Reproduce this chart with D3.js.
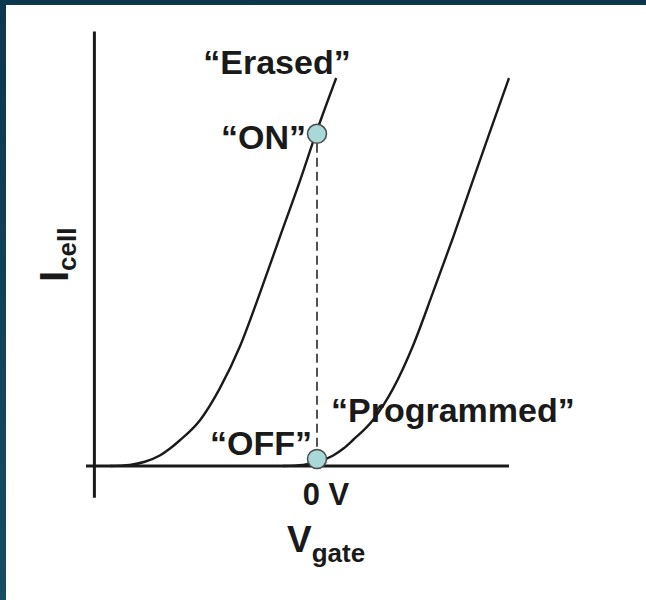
<!DOCTYPE html>
<html>
<head>
<meta charset="utf-8">
<script src="https://cdn.jsdelivr.net/npm/d3@7"></script>
<style>
  html, body { margin: 0; padding: 0; background: #fff; }
  svg { display: block; }
  text { font-family: "Liberation Sans", Arial, sans-serif; font-weight: bold; fill: #1a1a1a; }
</style>
</head>
<body>
<div id="chart"></div>
<script>
// --- Data (V gate in volts, I cell in arbitrary units) ---
const erasedV = [-3.45, -3.12, -2.87, -2.62, -2.45, -2.28, -1.95, -1.62, -1.28, -0.95, -0.62, -0.28, -0.02, 0.32];
const erasedI = [0, 0.03, 0.11, 0.27, 0.45, 0.67, 1.18, 2.0, 3.1, 4.46, 5.90, 7.37, 8.56, 10.0];
const programmedV = [-0.57, -0.23, 0.02, 0.27, 0.44, 0.60, 0.93, 1.27, 1.60, 1.93, 2.27, 2.60, 2.87, 3.20];
const programmedI = [0, 0.03, 0.11, 0.27, 0.45, 0.67, 1.18, 2.0, 3.1, 4.46, 5.90, 7.37, 8.56, 10.0];
const stateV = [0, 0];
const stateI = [8.56, 0.18];   // "ON", "OFF"
const stateLabels = ["\u201cON\u201d", "\u201cOFF\u201d"];
const tickLabel = "0 V";

const W = 646, H = 600;

// --- Scales ---
const x = d3.scaleLinear().domain([-3.85, 3.2]).range([86, 509]);
const y = d3.scaleLinear().domain([0, 10]).range([466, 78]);

const svg = d3.select("#chart").append("svg")
  .attr("width", W).attr("height", H);

// --- Frame ---
const defs = svg.append("defs");
const grad = defs.append("linearGradient").attr("id", "frame")
  .attr("x1", 0).attr("y1", 0).attr("x2", 0).attr("y2", 1);
grad.append("stop").attr("offset", "0%").attr("stop-color", "#0d374e");
grad.append("stop").attr("offset", "100%").attr("stop-color", "#154d63");
svg.append("rect").attr("width", W).attr("height", H).attr("fill", "url(#frame)");
svg.append("rect").attr("x", 6).attr("y", 5).attr("width", W - 6).attr("height", H - 5).attr("fill", "#fff");

// --- Axes ---
svg.append("line")
  .attr("x1", x(-3.85)).attr("x2", x(3.2))
  .attr("y1", y(0)).attr("y2", y(0))
  .attr("stroke", "#1a1a1a").attr("stroke-width", 3);
svg.append("line")
  .attr("x1", x(-3.71)).attr("x2", x(-3.71))
  .attr("y1", y(11.2)).attr("y2", y(-0.82))
  .attr("stroke", "#1a1a1a").attr("stroke-width", 3);

// --- Curves ---
const line = d3.line()
  .x(d => x(d[0]))
  .y(d => y(d[1]))
  .curve(d3.curveMonotoneX);

[[erasedV, erasedI], [programmedV, programmedI]].forEach(([vs, is]) => {
  svg.append("path")
    .datum(vs.map((v, i) => [v, is[i]]))
    .attr("fill", "none")
    .attr("stroke", "#1a1a1a")
    .attr("stroke-width", 2.4)
    .attr("d", line);
});

// --- Dashed link between ON and OFF ---
svg.append("line")
  .attr("x1", x(stateV[0])).attr("x2", x(stateV[1]))
  .attr("y1", y(stateI[0]) + 10).attr("y2", y(stateI[1]) - 10)
  .attr("stroke", "#1a1a1a").attr("stroke-width", 1.5)
  .attr("stroke-dasharray", "9 5");

// --- State points ---
svg.selectAll(".state")
  .data(stateV.map((v, i) => ({ v, i: stateI[i] })))
  .enter().append("circle")
  .attr("class", "state")
  .attr("cx", d => x(d.v))
  .attr("cy", d => y(d.i))
  .attr("r", 9.5)
  .attr("fill", "#a9d8d9")
  .attr("stroke", "#4a4a4a")
  .attr("stroke-width", 1.5);

// --- Labels ---
svg.append("text").attr("x", x(stateV[0]) - 11).attr("y", y(stateI[0]) + 15)
  .attr("text-anchor", "end").attr("font-size", 34).text(stateLabels[0]);
svg.append("text").attr("x", x(stateV[1]) - 5).attr("y", y(stateI[1]) - 4)
  .attr("text-anchor", "end").attr("font-size", 34).text(stateLabels[1]);
svg.append("text").attr("x", 277).attr("y", 74)
  .attr("text-anchor", "middle").attr("font-size", 34).text("\u201cErased\u201d");
svg.append("text").attr("x", 331).attr("y", 422)
  .attr("text-anchor", "start").attr("font-size", 34).text("\u201cProgrammed\u201d");

svg.append("text").attr("x", x(0) + 9).attr("y", 505)
  .attr("text-anchor", "middle").attr("font-size", 31).text(tickLabel);

const xl = svg.append("text").attr("x", 287).attr("y", 552).attr("font-size", 37);
xl.append("tspan").text("V");
xl.append("tspan").attr("font-size", 26).attr("dy", 10).text("gate");

const yl = svg.append("text")
  .attr("transform", "translate(68,282) rotate(-90)")
  .attr("font-size", 40);
yl.append("tspan").text("I");
yl.append("tspan").attr("font-size", 26).attr("dy", 8).text("cell");
</script>
</body>
</html>
